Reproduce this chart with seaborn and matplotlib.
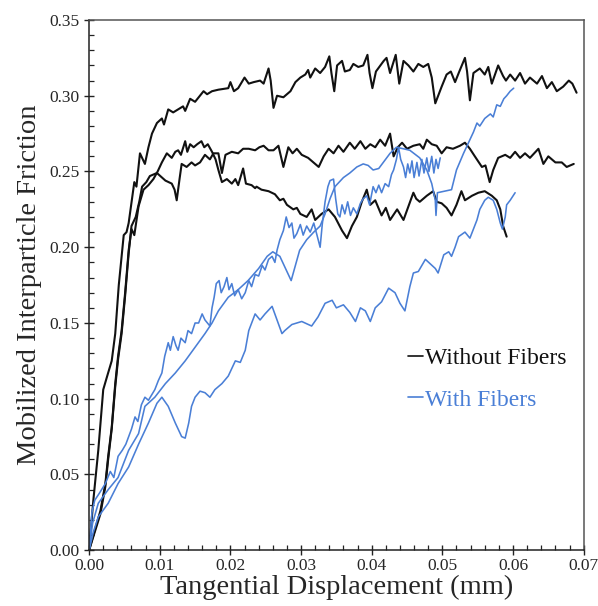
import numpy as np
import pandas as pd
import matplotlib
matplotlib.use("Agg")
import matplotlib.pyplot as plt
from matplotlib.lines import Line2D
from matplotlib.ticker import MultipleLocator, FormatStrFormatter
import seaborn as sns

black_a = [(0, 0), (0.0006, 0.033), (0.0013, 0.066), (0.002, 0.106), (0.0025, 0.114), (0.0032, 0.125),
           (0.0037, 0.143), (0.0042, 0.175), (0.0049, 0.208), (0.0053, 0.210), (0.0056, 0.216), (0.0064, 0.243),
           (0.0067, 0.240), (0.0072, 0.262), (0.0079, 0.255), (0.0084, 0.266), (0.0089, 0.275), (0.0096, 0.282),
           (0.0103, 0.285), (0.0106, 0.281), (0.0112, 0.291), (0.0119, 0.289), (0.0133, 0.293), (0.0136, 0.290),
           (0.0143, 0.298), (0.015, 0.296), (0.0162, 0.303), (0.0167, 0.301), (0.0174, 0.303), (0.0183, 0.304),
           (0.0197, 0.305), (0.02, 0.309), (0.0205, 0.303), (0.0211, 0.305), (0.022, 0.312), (0.0226, 0.308),
           (0.0233, 0.309), (0.0242, 0.310), (0.0247, 0.308), (0.0254, 0.318), (0.0257, 0.310), (0.0261, 0.292),
           (0.0266, 0.300), (0.0275, 0.299), (0.0285, 0.303), (0.0292, 0.309), (0.0299, 0.312), (0.0306, 0.314),
           (0.031, 0.317), (0.0313, 0.312), (0.032, 0.318), (0.0327, 0.315), (0.0334, 0.319), (0.034, 0.326),
           (0.0343, 0.315), (0.0347, 0.303), (0.0351, 0.320), (0.0358, 0.323), (0.0362, 0.316), (0.0369, 0.317),
           (0.0374, 0.321), (0.0381, 0.319), (0.0388, 0.320), (0.0394, 0.327), (0.0397, 0.315), (0.0401, 0.305),
           (0.0406, 0.316), (0.0417, 0.323), (0.0421, 0.325), (0.0426, 0.315), (0.0434, 0.327), (0.0439, 0.308),
           (0.0445, 0.323), (0.0452, 0.320), (0.0459, 0.316), (0.0466, 0.321), (0.0473, 0.319), (0.048, 0.321),
           (0.0485, 0.312), (0.049, 0.295), (0.0499, 0.306), (0.0506, 0.314), (0.0512, 0.316), (0.0518, 0.309),
           (0.0524, 0.316), (0.0532, 0.325), (0.0535, 0.316), (0.0539, 0.297), (0.0544, 0.315), (0.0553, 0.318),
           (0.056, 0.314), (0.0565, 0.319), (0.057, 0.308), (0.0579, 0.320), (0.0586, 0.313), (0.059, 0.310),
           (0.0596, 0.314), (0.0603, 0.310), (0.061, 0.315), (0.0617, 0.308), (0.0624, 0.312), (0.0634, 0.308),
           (0.0641, 0.313), (0.0648, 0.305), (0.0655, 0.309), (0.0662, 0.303), (0.0671, 0.306), (0.0679, 0.310),
           (0.0684, 0.308), (0.069, 0.302)]

black_b = [(0, 0), (0.0006, 0.010), (0.0016, 0.026), (0.0023, 0.044), (0.0027, 0.062), (0.0032, 0.081),
           (0.0037, 0.110), (0.0041, 0.128), (0.0046, 0.145), (0.0051, 0.170), (0.0056, 0.198), (0.006, 0.212),
           (0.0064, 0.208), (0.007, 0.227), (0.0077, 0.238), (0.0084, 0.241), (0.0091, 0.245), (0.0097, 0.250),
           (0.0103, 0.256), (0.011, 0.262), (0.0117, 0.259), (0.0122, 0.263), (0.0126, 0.264), (0.013, 0.261),
           (0.0136, 0.270), (0.0139, 0.263), (0.0143, 0.268), (0.0148, 0.266), (0.0153, 0.268), (0.0159, 0.270),
           (0.0163, 0.266), (0.0168, 0.268), (0.0174, 0.263), (0.0179, 0.258), (0.0183, 0.251), (0.0188, 0.243),
           (0.0195, 0.245), (0.0202, 0.242), (0.0207, 0.245), (0.0211, 0.241), (0.0218, 0.252), (0.0222, 0.242),
           (0.023, 0.241), (0.0235, 0.239), (0.0237, 0.240), (0.0244, 0.238), (0.0254, 0.237), (0.0263, 0.235),
           (0.027, 0.231), (0.0275, 0.232), (0.028, 0.228), (0.0289, 0.225), (0.0294, 0.226), (0.0299, 0.222),
           (0.0308, 0.220), (0.0315, 0.225), (0.032, 0.218), (0.0329, 0.222), (0.0339, 0.225), (0.0348, 0.220),
           (0.0358, 0.211), (0.0365, 0.206), (0.0372, 0.214), (0.0379, 0.220), (0.0386, 0.230), (0.0393, 0.238),
           (0.0398, 0.228), (0.0405, 0.231), (0.0414, 0.221), (0.042, 0.226), (0.0426, 0.218), (0.0436, 0.225),
           (0.0445, 0.218), (0.0452, 0.227), (0.0459, 0.236), (0.0463, 0.232), (0.0468, 0.230), (0.0478, 0.234),
           (0.0487, 0.237), (0.0492, 0.230), (0.0499, 0.229), (0.0506, 0.226), (0.0513, 0.221), (0.052, 0.228),
           (0.0527, 0.237), (0.0532, 0.231), (0.0542, 0.234), (0.0551, 0.236), (0.056, 0.237), (0.057, 0.234),
           (0.0577, 0.231), (0.0582, 0.225), (0.0586, 0.214), (0.0591, 0.207)]

black_c = [(0, 0), (0.0008, 0.012), (0.0016, 0.024), (0.0023, 0.042), (0.0027, 0.060), (0.0032, 0.080),
           (0.0037, 0.108), (0.0041, 0.126), (0.0046, 0.143), (0.0051, 0.168), (0.0056, 0.196), (0.006, 0.214),
           (0.0066, 0.220), (0.0071, 0.230), (0.0075, 0.240), (0.0081, 0.243), (0.0086, 0.247), (0.0096, 0.249),
           (0.0108, 0.244), (0.0117, 0.242), (0.0121, 0.238), (0.0124, 0.231), (0.0128, 0.245), (0.0131, 0.255),
           (0.0138, 0.253), (0.0145, 0.256), (0.015, 0.254), (0.0157, 0.256), (0.0164, 0.261), (0.0171, 0.258),
           (0.0176, 0.262), (0.0183, 0.262), (0.0188, 0.249), (0.0193, 0.261), (0.0202, 0.263), (0.0211, 0.262),
           (0.0218, 0.265), (0.0226, 0.265), (0.0235, 0.264), (0.0241, 0.266), (0.0247, 0.267), (0.0254, 0.264),
           (0.0261, 0.264), (0.0268, 0.267), (0.0275, 0.253), (0.0282, 0.266), (0.0288, 0.262), (0.0294, 0.265),
           (0.0301, 0.261), (0.031, 0.259), (0.032, 0.255), (0.0325, 0.253), (0.0332, 0.260), (0.0339, 0.265),
           (0.0346, 0.262), (0.0353, 0.267), (0.036, 0.263), (0.0369, 0.269), (0.0376, 0.265), (0.0384, 0.270),
           (0.0391, 0.265), (0.0398, 0.268), (0.0405, 0.266), (0.0412, 0.271), (0.0419, 0.267), (0.0426, 0.275),
           (0.0431, 0.260), (0.0437, 0.266), (0.0443, 0.269), (0.045, 0.265), (0.0459, 0.267), (0.0468, 0.268),
           (0.0473, 0.265), (0.0478, 0.271), (0.0485, 0.268), (0.0492, 0.267), (0.0499, 0.262), (0.0506, 0.266),
           (0.0515, 0.265), (0.0525, 0.267), (0.0532, 0.269), (0.0539, 0.265), (0.0546, 0.260), (0.0556, 0.253),
           (0.0561, 0.254), (0.0567, 0.243), (0.0572, 0.251), (0.0579, 0.259), (0.0589, 0.261), (0.0596, 0.259),
           (0.0603, 0.263), (0.061, 0.259), (0.0617, 0.262), (0.0624, 0.259), (0.0636, 0.265), (0.0643, 0.255),
           (0.065, 0.260), (0.066, 0.256), (0.0669, 0.256), (0.0676, 0.253), (0.0686, 0.255)]

blue_d = [(0, 0), (0.0004, 0.025), (0.0008, 0.033), (0.0015, 0.038), (0.0023, 0.044), (0.003, 0.052),
          (0.0035, 0.048), (0.0041, 0.062), (0.0047, 0.066), (0.0052, 0.070), (0.0056, 0.075), (0.006, 0.080),
          (0.0065, 0.088), (0.0069, 0.085), (0.0074, 0.096), (0.0079, 0.101), (0.0084, 0.099), (0.0093, 0.106),
          (0.0098, 0.112), (0.0103, 0.117), (0.0107, 0.128), (0.0112, 0.137), (0.0115, 0.132), (0.0119, 0.141),
          (0.0123, 0.135), (0.0126, 0.132), (0.013, 0.140), (0.0136, 0.137), (0.014, 0.145), (0.0145, 0.143),
          (0.015, 0.150), (0.0155, 0.150), (0.016, 0.156), (0.0164, 0.152), (0.0171, 0.148), (0.0174, 0.160),
          (0.0177, 0.167), (0.018, 0.176), (0.0184, 0.178), (0.0187, 0.170), (0.0191, 0.174), (0.0195, 0.180),
          (0.0198, 0.172), (0.0202, 0.176), (0.0206, 0.168), (0.0211, 0.172), (0.0216, 0.166), (0.0221, 0.170),
          (0.0226, 0.178), (0.023, 0.174), (0.0235, 0.182), (0.024, 0.181), (0.0245, 0.188), (0.0249, 0.185),
          (0.0254, 0.192), (0.0259, 0.194), (0.0263, 0.190), (0.0266, 0.198), (0.027, 0.205), (0.0275, 0.211),
          (0.0279, 0.220), (0.0283, 0.213), (0.0287, 0.216), (0.029, 0.206), (0.0294, 0.209), (0.0299, 0.215),
          (0.0303, 0.208), (0.0308, 0.214), (0.0313, 0.210), (0.0318, 0.216), (0.0322, 0.209), (0.0327, 0.200),
          (0.033, 0.215), (0.0334, 0.230), (0.0338, 0.240), (0.0341, 0.244), (0.0346, 0.245), (0.0349, 0.232),
          (0.0352, 0.222), (0.0355, 0.220), (0.0358, 0.228), (0.0362, 0.222), (0.0366, 0.230), (0.037, 0.221),
          (0.0374, 0.226), (0.0379, 0.222), (0.0384, 0.229), (0.0388, 0.232), (0.0393, 0.234), (0.0397, 0.228),
          (0.0402, 0.240), (0.0406, 0.236), (0.041, 0.241), (0.0414, 0.236), (0.0419, 0.242), (0.0424, 0.240),
          (0.0428, 0.248), (0.0431, 0.251), (0.0435, 0.258), (0.0438, 0.266), (0.0441, 0.258), (0.0445, 0.253),
          (0.0448, 0.246), (0.0451, 0.255), (0.0454, 0.249), (0.0457, 0.257), (0.046, 0.246), (0.0464, 0.256),
          (0.0467, 0.247), (0.0471, 0.258), (0.0474, 0.249), (0.0478, 0.259), (0.0481, 0.250), (0.0485, 0.260),
          (0.0488, 0.249), (0.0491, 0.258), (0.0494, 0.252), (0.0497, 0.259)]

blue_f = [(0, 0), (0.0005, 0.018), (0.0013, 0.031), (0.0027, 0.040), (0.0041, 0.048), (0.0056, 0.066),
          (0.007, 0.077), (0.0079, 0.095), (0.0093, 0.101), (0.0108, 0.110), (0.0122, 0.117), (0.0136, 0.125),
          (0.015, 0.134), (0.0164, 0.143), (0.0174, 0.150), (0.0183, 0.158), (0.0197, 0.167), (0.0211, 0.172),
          (0.0225, 0.178), (0.024, 0.186), (0.0252, 0.194), (0.026, 0.197), (0.027, 0.194), (0.0278, 0.186),
          (0.0286, 0.178), (0.0292, 0.188), (0.0298, 0.198), (0.0308, 0.205), (0.0318, 0.210), (0.0327, 0.214),
          (0.0334, 0.222), (0.0341, 0.232), (0.0348, 0.240), (0.036, 0.246), (0.0369, 0.249), (0.0379, 0.253),
          (0.0388, 0.255), (0.0395, 0.254), (0.0402, 0.251), (0.041, 0.252), (0.0418, 0.257), (0.0426, 0.262),
          (0.0435, 0.266), (0.0445, 0.265), (0.0454, 0.264), (0.0468, 0.259), (0.0478, 0.251), (0.0485, 0.242),
          (0.049, 0.231), (0.0491, 0.221), (0.0493, 0.236), (0.0503, 0.237), (0.0513, 0.238), (0.052, 0.251),
          (0.053, 0.262), (0.0537, 0.269), (0.0544, 0.276), (0.0549, 0.282), (0.0553, 0.280), (0.056, 0.285),
          (0.0568, 0.288), (0.0572, 0.286), (0.0577, 0.294), (0.0582, 0.293), (0.0587, 0.298), (0.0591, 0.300),
          (0.0596, 0.303), (0.0601, 0.305)]

blue_e = [(0, 0), (0.0006, 0.012), (0.0013, 0.022), (0.0027, 0.031), (0.0041, 0.044), (0.0056, 0.055),
          (0.007, 0.070), (0.0084, 0.084), (0.0096, 0.097), (0.0103, 0.101), (0.0112, 0.095), (0.0122, 0.084),
          (0.0131, 0.075), (0.0136, 0.074), (0.0141, 0.084), (0.0145, 0.095), (0.015, 0.101), (0.0157, 0.105),
          (0.0164, 0.104), (0.0171, 0.101), (0.0178, 0.106), (0.0188, 0.110), (0.0197, 0.115), (0.0207, 0.125),
          (0.0214, 0.124), (0.0221, 0.132), (0.0226, 0.145), (0.0235, 0.156), (0.0242, 0.152), (0.0249, 0.156),
          (0.0259, 0.161), (0.0266, 0.152), (0.0273, 0.143), (0.0277, 0.145), (0.0287, 0.149), (0.0301, 0.151),
          (0.0315, 0.148), (0.0324, 0.154), (0.0334, 0.163), (0.0344, 0.165), (0.035, 0.160), (0.036, 0.162),
          (0.0369, 0.157), (0.0377, 0.151), (0.0384, 0.160), (0.0391, 0.158), (0.0398, 0.151), (0.0405, 0.160),
          (0.0414, 0.164), (0.0424, 0.173), (0.0433, 0.170), (0.044, 0.163), (0.0447, 0.158), (0.0454, 0.174),
          (0.0459, 0.183), (0.0466, 0.184), (0.0476, 0.192), (0.0483, 0.189), (0.049, 0.186), (0.0494, 0.183),
          (0.0502, 0.195), (0.0509, 0.197), (0.0513, 0.194), (0.0518, 0.200), (0.0523, 0.207), (0.0532, 0.210),
          (0.0539, 0.206), (0.0544, 0.212), (0.0549, 0.218), (0.0553, 0.225), (0.056, 0.231), (0.0565, 0.233),
          (0.0572, 0.231), (0.0577, 0.225), (0.0582, 0.216), (0.0585, 0.212), (0.0589, 0.220), (0.0591, 0.228),
          (0.0596, 0.231), (0.0603, 0.236)]

labels = ["Without Fibers", "With Fibers"]
BLACK = "#111111"
BLUE = "#4a7fd6"

sns.set_style("ticks")
plt.rcParams["font.family"] = ["Liberation Serif", "DejaVu Serif"]

fig = plt.figure(figsize=(5.98, 6.06), dpi=100)
ax = fig.add_axes([0.149, 0.092, 0.827, 0.875])

for curve, col, lw in [(black_a, BLACK, 1.5), (black_b, BLACK, 1.5), (black_c, BLACK, 1.5),
                       (blue_e, BLUE, 1.15), (blue_f, BLUE, 1.15), (blue_d, BLUE, 1.15)]:
    df = pd.DataFrame(curve, columns=["x", "y"])
    sns.lineplot(data=df, x="x", y="y", sort=False, estimator=None, color=col, lw=lw, ax=ax)

ax.set_xlim(0, 0.07)
ax.set_ylim(0, 0.35)
ax.xaxis.set_major_locator(MultipleLocator(0.01))
ax.xaxis.set_minor_locator(MultipleLocator(0.002))
ax.yaxis.set_major_locator(MultipleLocator(0.05))
ax.yaxis.set_minor_locator(MultipleLocator(0.01))
ax.xaxis.set_major_formatter(FormatStrFormatter("%.2f"))
ax.yaxis.set_major_formatter(FormatStrFormatter("%.2f"))
ax.tick_params(which="major", direction="inout", length=7, width=1, labelsize=12.5, color="#222")
ax.tick_params(axis="x", which="major", pad=2)
ax.tick_params(which="minor", direction="in", length=3.5, width=0.9, color="#222")
for s in ["left", "bottom"]:
    ax.spines[s].set_color("#222")
    ax.spines[s].set_linewidth(1.1)
for s in ["top", "right"]:
    ax.spines[s].set_color("#555")
    ax.spines[s].set_linewidth(1.1)

ax.set_xlabel("Tangential Displacement (mm)", fontsize=20.5, labelpad=1)
ax.set_ylabel("Mobilized Interparticle Friction", fontsize=20.5, labelpad=5)

handles = [Line2D([], [], color=BLACK, lw=1.2), Line2D([], [], color=BLUE, lw=1.2)]
leg = ax.legend(handles, labels, loc="upper left", bbox_to_anchor=(0.625, 0.40), frameon=False,
                fontsize=17, handlelength=0.65, handletextpad=0.1, labelspacing=0.85,
                labelcolor=[BLACK, BLUE], borderaxespad=0)

fig.savefig("out.png", dpi=100)
